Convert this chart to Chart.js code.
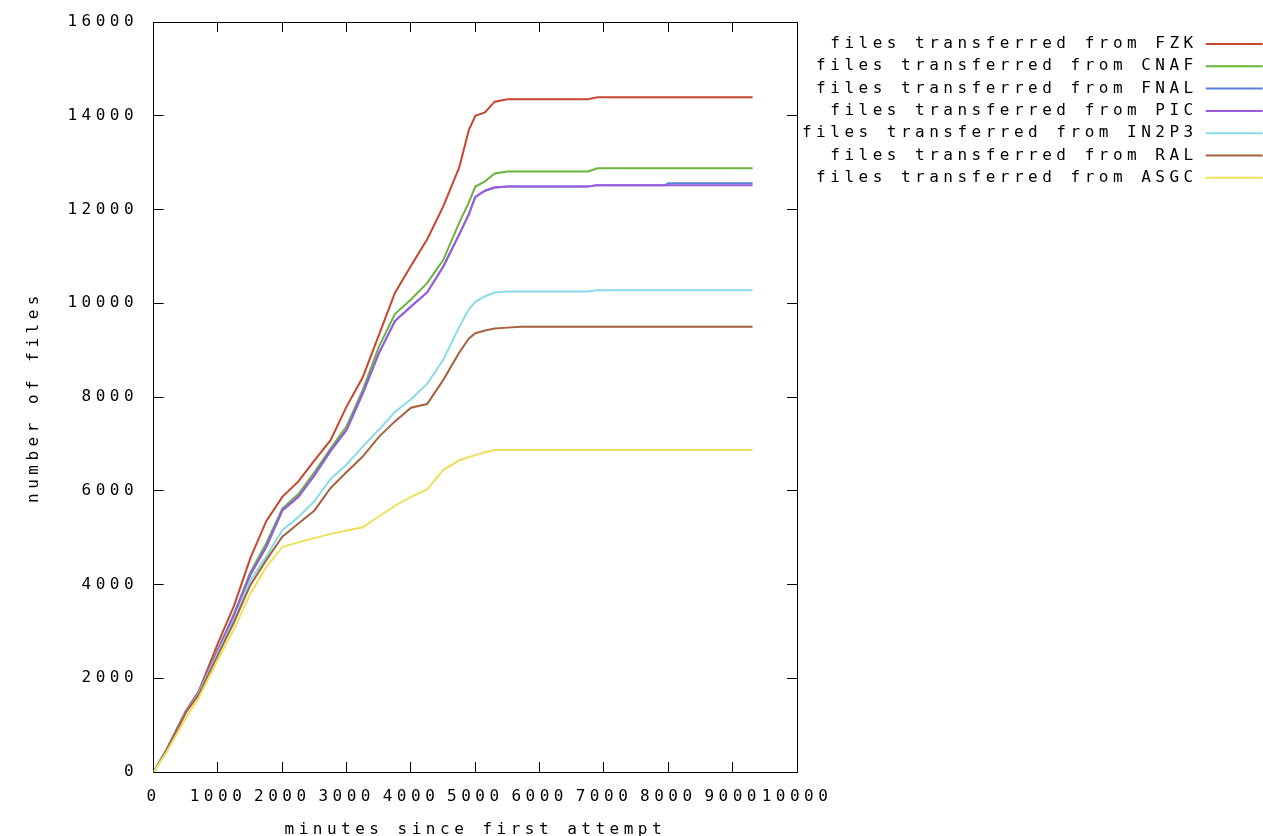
<!DOCTYPE html>
<html lang="en">
<head>
<meta charset="UTF-8">
<title>files transferred per site</title>
<script src="https://cdn.jsdelivr.net/npm/chart.js"></script>
<style>
  html, body { margin: 0; padding: 0; background: #fff; }
  canvas { display: block; }
</style>
</head>
<body>
<canvas id="myChart" width="1263" height="836"></canvas>
<script>
// minutes since first attempt (shared x values for every site)
const minutes = [0, 200, 500, 700, 1000, 1250, 1500, 1750, 2000, 2250, 2500, 2750, 3000, 3250, 3500, 3750,
                 4000, 4250, 4500, 4750, 4900, 5000, 5150, 5300, 5500, 5700, 6750, 6900, 7950, 8000, 9310];

// cumulative number of files per site
const fzk   = [0, 480, 1300, 1720, 2750, 3550, 4550, 5350, 5870, 6200, 6650, 7080, 7800, 8420, 9320, 10220,
               10800, 11360, 12060, 12900, 13700, 14000, 14070, 14300, 14350, 14350, 14350, 14394, 14394, 14394, 14394];
const cnaf  = [0, 470, 1280, 1700, 2620, 3380, 4250, 4880, 5620, 5930, 6400, 6900, 7380, 8150, 9070, 9770,
               10080, 10430, 10920, 11720, 12150, 12490, 12600, 12770, 12810, 12810, 12810, 12880, 12880, 12880, 12880];
const fnal  = [0, 470, 1280, 1700, 2600, 3350, 4200, 4800, 5580, 5870, 6330, 6850, 7300, 8080, 8930, 9620,
               9930, 10230, 10780, 11470, 11900, 12270, 12400, 12470, 12490, 12490, 12490, 12520, 12520, 12560, 12560];
const pic   = [0, 470, 1280, 1700, 2600, 3350, 4200, 4800, 5580, 5870, 6330, 6850, 7300, 8080, 8930, 9620,
               9930, 10230, 10780, 11470, 11900, 12270, 12400, 12470, 12490, 12490, 12490, 12520, 12520, 12520, 12520];
const in2p3 = [0, 460, 1270, 1680, 2550, 3250, 4080, 4600, 5160, 5440, 5780, 6250, 6560, 6940, 7300, 7680,
               7950, 8280, 8790, 9500, 9870, 10030, 10150, 10230, 10250, 10250, 10250, 10280, 10280, 10280, 10280];
const ral   = [0, 460, 1270, 1650, 2500, 3200, 3980, 4520, 5020, 5300, 5580, 6060, 6400, 6730, 7150, 7480,
               7770, 7850, 8360, 8950, 9250, 9360, 9420, 9460, 9480, 9500, 9500, 9500, 9500, 9500, 9500];
const asgc  = [0, 420, 1150, 1580, 2400, 3050, 3800, 4370, 4800, 4900, 4990, 5080, 5150, 5220, 5450, 5680,
               5870, 6030, 6440, 6650, 6720, 6760, 6820, 6870, 6870, 6870, 6870, 6870, 6870, 6870, 6870];

const sites  = ['FZK', 'CNAF', 'FNAL', 'PIC', 'IN2P3', 'RAL', 'ASGC'];
const series = [fzk, cnaf, fnal, pic, in2p3, ral, asgc];
const colors = ['#c9452f', '#6ab43e', '#5b82d6', '#9b59e0', '#8adbe6', '#a5623f', '#efe05a'];

const xTicks = [0, 1000, 2000, 3000, 4000, 5000, 6000, 7000, 8000, 9000, 10000];
const yTicks = [0, 2000, 4000, 6000, 8000, 10000, 12000, 14000, 16000];

const mono = 'DejaVu Sans Mono';
const font = { family: mono, size: 16 };

// wide spacing of the old bitmap font
const spacing = {
    id: 'spacing',
    beforeUpdate(chart) { chart.ctx.letterSpacing = '4.5px'; },
    beforeLayout(chart) { chart.ctx.letterSpacing = '4.5px'; },
    beforeDraw(chart) { chart.ctx.letterSpacing = '4.5px'; }
};

const setX = s => { s.ticks = xTicks.map(v => ({ value: v })); };
const setY = s => { s.ticks = yTicks.map(v => ({ value: v })); };
const frame = { display: true, color: '#000', width: 1 };
// ticks pointing into the plot, gnuplot style
const inTicks = { drawOnChartArea: false, drawTicks: true, tickLength: -10, tickColor: '#000', tickWidth: 1 };
const blankTitle = { display: true, text: '', font: { size: 10, lineHeight: 1 }, padding: 0 };

const ctx = document.getElementById('myChart').getContext('2d');
const myChart = new Chart(ctx, {
    type: 'line',
    data: {
        datasets: sites.map((s, i) => ({
            label: 'files transferred from ' + s,
            data: minutes.map((m, j) => ({ x: m, y: series[i][j] })),
            borderColor: colors[i],
            backgroundColor: colors[i],
            borderWidth: 2,
            pointRadius: 0,
            tension: 0,
            order: -i // later sites drawn on top, like gnuplot
        }))
    },
    options: {
        responsive: false,
        animation: false,
        layout: { padding: { top: 22, left: 0, right: -6, bottom: -2 } },
        plugins: {
            tooltip: { enabled: false },
            legend: {
                position: 'right',
                align: 'start',
                rtl: true,
                maxWidth: 472,
                title: { display: true, text: '', font: { size: 7.7, lineHeight: 1 }, padding: 0 },
                labels: {
                    color: '#000',
                    font: font,
                    boxWidth: 57,
                    boxHeight: 2,
                    padding: 6.3,
                    sort: (a, b) => a.datasetIndex - b.datasetIndex,
                    generateLabels(chart) {
                        const items = Chart.defaults.plugins.legend.labels.generateLabels(chart);
                        items.forEach(it => {
                            it.text = it.text.padStart(48);
                            it.lineWidth = 0;
                        });
                        return items;
                    }
                }
            }
        },
        scales: {
            x: {
                type: 'linear', position: 'bottom', min: 0, max: 10000,
                afterBuildTicks: setX,
                ticks: { color: '#000', font: font, padding: 25, autoSkip: false, maxRotation: 0, minRotation: 0,
                         callback: v => String(v) },
                grid: inTicks,
                border: frame,
                title: { display: true, text: 'minutes since first attempt', color: '#000',
                         font: { family: mono, size: 16, lineHeight: 1 }, padding: { top: -9.2, bottom: 0 } }
            },
            y: {
                type: 'linear', position: 'left', min: 0, max: 16000, weight: 1,
                afterBuildTicks: setY,
                ticks: { color: '#000', font: { family: mono, size: 16, lineHeight: 0.8 }, padding: 15.6,
                         autoSkip: false, callback: v => String(v) },
                grid: { display: false, drawTicks: false },
                border: frame,
                title: { display: true, text: 'number of files', color: '#000',
                         font: { family: mono, size: 16 }, padding: { top: 23.9, bottom: 8.7 } }
            },
            yIn: {
                type: 'linear', position: 'left', min: 0, max: 16000, weight: 0,
                afterBuildTicks: setY,
                ticks: { display: false },
                grid: inTicks,
                border: frame,
                title: blankTitle
            },
            x2: {
                type: 'linear', position: 'top', min: 0, max: 10000,
                afterBuildTicks: setX,
                ticks: { display: false },
                grid: inTicks,
                border: frame,
                title: blankTitle
            },
            y2: {
                type: 'linear', position: 'right', min: 0, max: 16000,
                afterBuildTicks: setY,
                ticks: { display: false },
                grid: inTicks,
                border: frame,
                title: blankTitle
            }
        }
    },
    plugins: [spacing]
});
</script>
</body>
</html>
